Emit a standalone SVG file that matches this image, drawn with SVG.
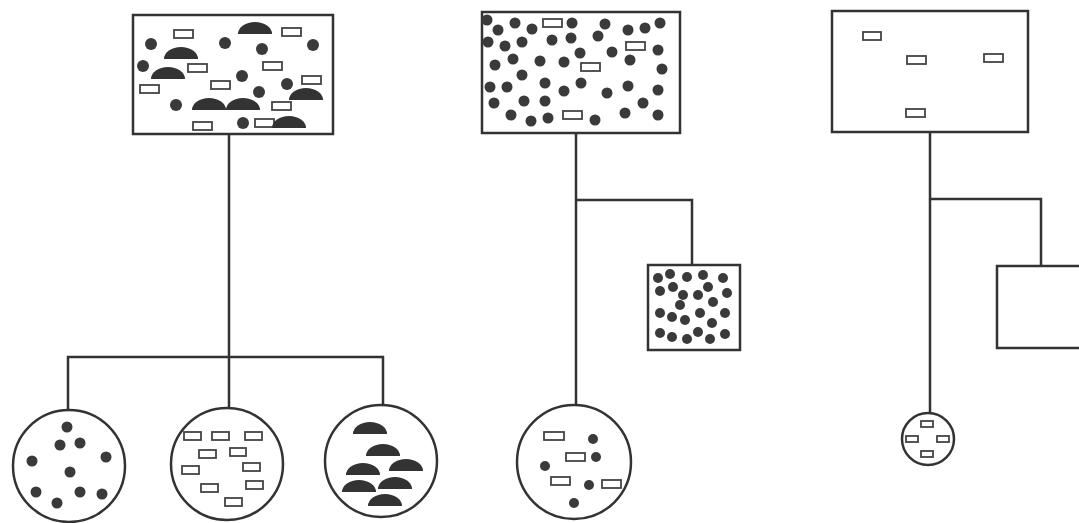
<svg xmlns="http://www.w3.org/2000/svg" width="1079" height="523" viewBox="0 0 1079 523">
<style>
.box{fill:#fff;stroke:#333;stroke-width:2.5}
.ln{fill:none;stroke:#333;stroke-width:2.5}
.dot{fill:#3a3a3a}
.chip{fill:#fff;stroke:#444;stroke-width:1.8}
.md{fill:#333}
</style>
<defs>
<path id="m" d="M-17,0 A17,12 0 0 1 17,0 Z"/>
</defs>
<rect width="1079" height="523" fill="#fff"/>
<g id="connectors">
<path class="ln" d="M229,133 V408"/>
<path class="ln" d="M68,410 V357 H383 V405"/>
<path class="ln" d="M576,133 V405"/>
<path class="ln" d="M576,200 H692 V265"/>
<path class="ln" d="M930,132 V413"/>
<path class="ln" d="M930,199 H1041 V266"/>
</g>
<g id="box1">
<rect class="box" x="133" y="15" width="200" height="119"/>
<g class="chip">
<rect x="174" y="30" width="19" height="8"/><rect x="282" y="28" width="19" height="8"/>
<rect x="188" y="64" width="19" height="8"/><rect x="263" y="62" width="19" height="8"/>
<rect x="302" y="76" width="19" height="8"/><rect x="140" y="85" width="19" height="8"/>
<rect x="211" y="81" width="19" height="8"/><rect x="272" y="102" width="19" height="8"/>
<rect x="193" y="122" width="19" height="8"/><rect x="255" y="119" width="19" height="8"/>
</g>
<g class="dot">
<circle cx="151" cy="44" r="6"/><circle cx="225" cy="43" r="6"/><circle cx="262" cy="49" r="6"/>
<circle cx="313" cy="45" r="6"/><circle cx="143" cy="66" r="6"/><circle cx="242" cy="76" r="6"/>
<circle cx="287" cy="84" r="6"/><circle cx="259" cy="92" r="6"/><circle cx="176" cy="105" r="6"/>
<circle cx="243" cy="123" r="6"/>
</g>
<g class="md">
<use href="#m" x="255" y="34"/><use href="#m" x="181" y="59"/><use href="#m" x="168" y="79"/>
<use href="#m" x="306" y="100"/><use href="#m" x="209" y="110"/><use href="#m" x="243" y="110"/>
<use href="#m" x="289" y="128"/>
</g>
</g>
<g id="box2">
<rect class="box" x="482" y="12" width="198" height="121"/>
<g class="chip">
<rect x="543" y="19" width="19" height="8"/><rect x="626" y="42" width="19" height="8"/>
<rect x="581" y="63" width="19" height="8"/><rect x="563" y="111" width="19" height="8"/>
</g>
<g class="dot">
<circle cx="487" cy="20" r="5.5"/><circle cx="515" cy="23" r="5.5"/><circle cx="532" cy="29" r="5.5"/>
<circle cx="498" cy="30" r="5.5"/><circle cx="572" cy="23" r="5.5"/><circle cx="605" cy="24" r="5.5"/>
<circle cx="628" cy="30" r="5.5"/><circle cx="645" cy="28" r="5.5"/><circle cx="660" cy="23" r="5.5"/>
<circle cx="488" cy="42" r="5.5"/><circle cx="505" cy="46" r="5.5"/><circle cx="522" cy="42" r="5.5"/>
<circle cx="552" cy="40" r="5.5"/><circle cx="571" cy="38" r="5.5"/><circle cx="598" cy="36" r="5.5"/>
<circle cx="580" cy="53" r="5.5"/><circle cx="612" cy="52" r="5.5"/><circle cx="658" cy="50" r="5.5"/>
<circle cx="495" cy="65" r="5.5"/><circle cx="513" cy="59" r="5.5"/><circle cx="540" cy="61" r="5.5"/>
<circle cx="564" cy="62" r="5.5"/><circle cx="630" cy="60" r="5.5"/><circle cx="662" cy="69" r="5.5"/>
<circle cx="522" cy="75" r="5.5"/><circle cx="490" cy="87" r="5.5"/><circle cx="507" cy="87" r="5.5"/>
<circle cx="545" cy="83" r="5.5"/><circle cx="564" cy="91" r="5.5"/><circle cx="581" cy="83" r="5.5"/>
<circle cx="607" cy="93" r="5.5"/><circle cx="628" cy="86" r="5.5"/><circle cx="658" cy="90" r="5.5"/>
<circle cx="494" cy="103" r="5.5"/><circle cx="524" cy="101" r="5.5"/><circle cx="545" cy="101" r="5.5"/>
<circle cx="643" cy="103" r="5.5"/><circle cx="511" cy="115" r="5.5"/><circle cx="531" cy="121" r="5.5"/>
<circle cx="548" cy="118" r="5.5"/><circle cx="595" cy="120" r="5.5"/><circle cx="625" cy="113" r="5.5"/>
<circle cx="658" cy="115" r="5.5"/>
</g>
</g>
<g id="box3">
<rect class="box" x="832" y="11" width="196" height="121"/>
<g class="chip">
<rect x="863" y="32" width="18" height="8"/><rect x="907" y="56" width="19" height="8"/>
<rect x="984" y="54" width="19" height="8"/><rect x="906" y="109" width="19" height="8"/>
</g>
</g>
<g id="smallbox">
<rect class="box" x="648" y="265" width="92" height="85"/>
<g class="dot">
<circle cx="658" cy="278" r="5"/><circle cx="670" cy="274" r="5"/><circle cx="687" cy="277" r="5"/>
<circle cx="703" cy="275" r="5"/><circle cx="723" cy="278" r="5"/><circle cx="673" cy="287" r="5"/>
<circle cx="708" cy="287" r="5"/><circle cx="727" cy="293" r="5"/><circle cx="660" cy="291" r="5"/>
<circle cx="683" cy="295" r="5"/><circle cx="698" cy="295" r="5"/><circle cx="713" cy="302" r="5"/>
<circle cx="680" cy="305" r="5"/><circle cx="660" cy="313" r="5"/><circle cx="672" cy="317" r="5"/>
<circle cx="685" cy="320" r="5"/><circle cx="700" cy="313" r="5"/><circle cx="712" cy="323" r="5"/>
<circle cx="725" cy="313" r="5"/><circle cx="660" cy="333" r="5"/><circle cx="672" cy="337" r="5"/>
<circle cx="687" cy="339" r="5"/><circle cx="698" cy="332" r="5"/><circle cx="710" cy="339" r="5"/>
<circle cx="725" cy="334" r="5"/>
</g>
</g>
<g id="emptybox">
<rect class="box" x="997" y="266" width="95" height="82"/>
</g>
<g id="circle1">
<circle class="box" cx="69" cy="466" r="56"/>
<g class="dot">
<circle cx="67" cy="427" r="5.5"/><circle cx="60" cy="445" r="5.5"/><circle cx="80" cy="443" r="5.5"/>
<circle cx="32" cy="461" r="5.5"/><circle cx="106" cy="457" r="5.5"/><circle cx="70" cy="472" r="5.5"/>
<circle cx="36" cy="492" r="5.5"/><circle cx="80" cy="492" r="5.5"/><circle cx="102" cy="494" r="5.5"/>
<circle cx="57" cy="503" r="5.5"/>
</g>
</g>
<g id="circle2">
<circle class="box" cx="227" cy="464" r="56"/>
<g class="chip">
<rect x="184" y="432" width="17" height="8"/><rect x="212" y="432" width="17" height="8"/>
<rect x="245" y="432" width="17" height="8"/><rect x="199" y="450" width="17" height="8"/>
<rect x="230" y="448" width="16" height="8"/><rect x="182" y="466" width="17" height="8"/>
<rect x="243" y="463" width="17" height="8"/><rect x="201" y="484" width="17" height="8"/>
<rect x="246" y="481" width="17" height="8"/><rect x="225" y="498" width="17" height="8"/>
</g>
</g>
<g id="circle3">
<circle class="box" cx="381" cy="461" r="56"/>
<g class="md">
<use href="#m" x="370" y="434"/><use href="#m" x="383" y="456"/><use href="#m" x="363" y="475"/>
<use href="#m" x="406" y="471"/><use href="#m" x="359" y="492"/><use href="#m" x="395" y="489"/>
<use href="#m" x="385" y="506"/>
</g>
</g>
<g id="circle4">
<circle class="box" cx="574" cy="462" r="57"/>
<g class="chip">
<rect x="544" y="432" width="20" height="8"/><rect x="566" y="453" width="19" height="8"/>
<rect x="551" y="477" width="19" height="8"/><rect x="602" y="480" width="19" height="8"/>
</g>
<g class="dot">
<circle cx="593" cy="439" r="5"/><circle cx="596" cy="457" r="5"/><circle cx="545" cy="466" r="5"/>
<circle cx="589" cy="485" r="5"/><circle cx="574" cy="503" r="5"/>
</g>
</g>
<g id="circle5">
<circle class="box" cx="928" cy="439" r="26"/>
<g class="chip">
<rect x="921" y="421" width="12" height="6"/><rect x="906" y="436" width="12" height="6"/>
<rect x="937" y="436" width="12" height="6"/><rect x="921" y="451" width="12" height="6"/>
</g>
</g>
</svg>
